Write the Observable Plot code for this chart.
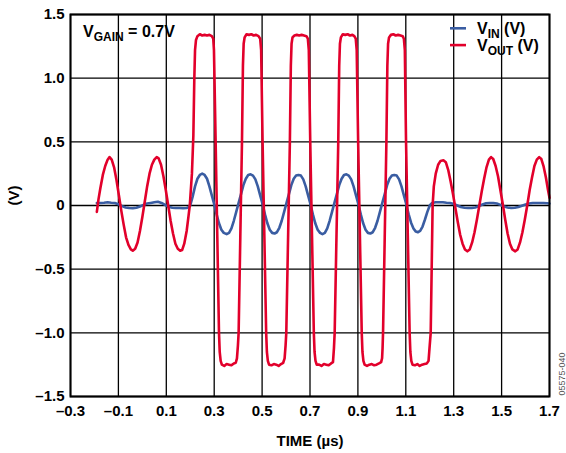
<!DOCTYPE html>
<html>
<head>
<meta charset="utf-8">
<script src="https://cdn.jsdelivr.net/npm/d3@7"></script>
<script src="https://cdn.jsdelivr.net/npm/@observablehq/plot@0.6"></script>
<style>
  html, body { margin: 0; padding: 0; background: #fff; }
  svg { display: block; }
</style>
</head>
<body>
<div id="chart"></div>
<script>
// ---- Data ----
const timeTicks = [-0.3, -0.1, 0.1, 0.3, 0.5, 0.7, 0.9, 1.1, 1.3, 1.5, 1.7];
const voltTicks = [-1.5, -1.0, -0.5, 0, 0.5, 1.0, 1.5];
const seriesNames = ["VIN", "VOUT"];
const seriesColors = ["#3a5da2", "#e2002b"];
const legendParts = [["V", "IN", " (V)"], ["V", "OUT", " (V)"]];
const annotationParts = ["V", "GAIN", " = 0.7V"];
const xTitle = "TIME (µs)";
const yTitle = "(V)";
const figureId = "05575-040";

const vinTime = [
  -0.190, -0.175, -0.160, -0.145, -0.130, -0.115, -0.100, -0.085, -0.070, -0.055,
  -0.040, -0.025, -0.010, 0.005, 0.020, 0.035, 0.050, 0.065, 0.080, 0.095,
  0.110, 0.125, 0.140, 0.155, 0.170, 0.185, 0.195,
  0.200, 0.210, 0.220, 0.230, 0.240, 0.250, 0.260, 0.270, 0.280, 0.290,
  0.300, 0.310, 0.320, 0.330, 0.340, 0.352, 0.362, 0.372, 0.382, 0.392,
  0.402, 0.412, 0.422, 0.432, 0.442, 0.452, 0.462, 0.472, 0.482, 0.492,
  0.502, 0.512, 0.522, 0.532, 0.542, 0.552, 0.562, 0.572, 0.582, 0.592,
  0.602, 0.612, 0.622, 0.632, 0.642, 0.652, 0.662, 0.672, 0.682, 0.692,
  0.702, 0.712, 0.722, 0.732, 0.742, 0.752, 0.762, 0.772, 0.782, 0.792,
  0.802, 0.812, 0.822, 0.832, 0.842, 0.852, 0.862, 0.872, 0.882, 0.892,
  0.902, 0.912, 0.922, 0.932, 0.942, 0.952, 0.962, 0.972, 0.982, 0.992,
  1.002, 1.012, 1.022, 1.032, 1.042, 1.052, 1.062, 1.072, 1.082, 1.092,
  1.102, 1.112, 1.122, 1.132, 1.142, 1.150, 1.160, 1.170, 1.180, 1.190,
  1.200, 1.210, 1.225, 1.240, 1.255, 1.270, 1.285, 1.300, 1.315, 1.330,
  1.345, 1.360, 1.375, 1.390, 1.405, 1.420, 1.435, 1.450, 1.465, 1.480,
  1.495, 1.510, 1.525, 1.540, 1.555, 1.570, 1.585, 1.600, 1.615, 1.630,
  1.645, 1.660, 1.675, 1.690, 1.700
];
const vinVolts = [
  0.020, 0.020, 0.022, 0.025, 0.022, 0.020, 0.010, -0.005, -0.015, -0.020,
  -0.022, -0.018, -0.008, 0.005, 0.015, 0.020, 0.025, 0.030, 0.020, 0.005,
  -0.010, -0.018, -0.020, -0.020, -0.022, -0.020, -0.010,
  0.000, 0.070, 0.150, 0.210, 0.240, 0.250, 0.240, 0.210, 0.150, 0.080,
  0.010, -0.070, -0.140, -0.190, -0.215, -0.225, -0.215, -0.180, -0.120, -0.050,
  0.020, 0.090, 0.160, 0.210, 0.240, 0.245, 0.235, 0.205, 0.150, 0.080,
  0.010, -0.070, -0.140, -0.190, -0.215, -0.220, -0.210, -0.175, -0.120, -0.050,
  0.020, 0.090, 0.160, 0.210, 0.235, 0.240, 0.235, 0.205, 0.150, 0.080,
  0.010, -0.070, -0.140, -0.190, -0.215, -0.225, -0.215, -0.180, -0.120, -0.050,
  0.020, 0.090, 0.160, 0.210, 0.240, 0.245, 0.235, 0.205, 0.150, 0.080,
  0.010, -0.070, -0.140, -0.190, -0.215, -0.220, -0.210, -0.175, -0.120, -0.050,
  0.020, 0.090, 0.160, 0.210, 0.235, 0.240, 0.235, 0.205, 0.150, 0.080,
  0.010, -0.070, -0.135, -0.180, -0.205, -0.210, -0.200, -0.165, -0.110, -0.050,
  0.000, 0.020, 0.025, 0.025, 0.025, 0.022, 0.020, 0.012, 0.000, -0.012,
  -0.018, -0.020, -0.020, -0.015, -0.005, 0.008, 0.018, 0.020, 0.020, 0.015,
  0.005, -0.008, -0.015, -0.020, -0.018, -0.012, -0.002, 0.008, 0.015, 0.020,
  0.020, 0.020, 0.020, 0.018, 0.015
];

const voutTime = [
  -0.190, -0.183, -0.175, -0.165, -0.155, -0.145, -0.137, -0.128, -0.118, -0.108,
  -0.098, -0.088, -0.078, -0.068, -0.058, -0.048, -0.040, -0.030, -0.020, -0.010,
  0.000, 0.010, 0.020, 0.030, 0.040, 0.050, 0.060, 0.068, 0.078, 0.088,
  0.098, 0.108, 0.118, 0.128, 0.138, 0.148, 0.158, 0.166, 0.175, 0.185,
  0.193, 0.198, 0.207, 0.213, 0.217, 0.220, 0.224, 0.230, 0.240, 0.250,
  0.260, 0.270, 0.280, 0.290, 0.296, 0.299, 0.306, 0.313, 0.320, 0.323,
  0.327, 0.332, 0.342, 0.352, 0.362, 0.372, 0.382, 0.390, 0.395, 0.399,
  0.402, 0.409, 0.416, 0.420, 0.423, 0.427, 0.435, 0.445, 0.455, 0.465,
  0.475, 0.485, 0.492, 0.496, 0.502, 0.5095, 0.517, 0.520, 0.524, 0.529,
  0.539, 0.549, 0.559, 0.569, 0.579, 0.588, 0.594, 0.598, 0.601, 0.6085,
  0.616, 0.620, 0.623, 0.627, 0.635, 0.645, 0.655, 0.665, 0.675, 0.685,
  0.691, 0.695, 0.701, 0.7085, 0.716, 0.719, 0.723, 0.728, 0.738, 0.748,
  0.758, 0.768, 0.778, 0.788, 0.796, 0.800, 0.803, 0.8105, 0.818, 0.822,
  0.825, 0.829, 0.837, 0.847, 0.857, 0.867, 0.877, 0.885, 0.891, 0.895,
  0.901, 0.9085, 0.916, 0.919, 0.923, 0.928, 0.938, 0.948, 0.958, 0.968,
  0.978, 0.988, 0.997, 1.001, 1.003, 1.005, 1.012, 1.019, 1.023, 1.026,
  1.030, 1.038, 1.048, 1.058, 1.068, 1.078, 1.087, 1.092, 1.096, 1.101,
  1.1085, 1.116, 1.119, 1.123, 1.128, 1.138, 1.148, 1.158, 1.168, 1.178,
  1.188, 1.195, 1.199, 1.204, 1.208, 1.212, 1.217, 1.225, 1.235, 1.245,
  1.257, 1.267, 1.277, 1.287, 1.297, 1.307, 1.317, 1.327, 1.337, 1.347,
  1.357, 1.367, 1.377, 1.387, 1.397, 1.407, 1.417, 1.427, 1.437, 1.447,
  1.456, 1.465, 1.475, 1.485, 1.495, 1.505, 1.515, 1.525, 1.535, 1.545,
  1.557, 1.567, 1.577, 1.587, 1.597, 1.607, 1.617, 1.627, 1.637, 1.647,
  1.657, 1.666, 1.675, 1.685, 1.694, 1.700
];
const voutVolts = [
  -0.05, 0.05, 0.14, 0.24, 0.31, 0.36, 0.38, 0.36, 0.30, 0.20,
  0.08, -0.04, -0.15, -0.25, -0.31, -0.345, -0.355, -0.34, -0.29, -0.20,
  -0.09, 0.03, 0.15, 0.25, 0.32, 0.36, 0.38, 0.37, 0.32, 0.23,
  0.12, 0.00, -0.12, -0.22, -0.30, -0.34, -0.355, -0.35, -0.30, -0.20,
  -0.08, 0.00, 0.25, 0.55, 1.00, 1.22, 1.30, 1.33, 1.345, 1.335,
  1.34, 1.335, 1.34, 1.33, 1.31, 1.22, 0.50, -0.25, -1.00, -1.15,
  -1.22, -1.25, -1.26, -1.245, -1.25, -1.255, -1.24, -1.235, -1.20, -1.10,
  -1.00, -0.25, 0.50, 1.10, 1.27, 1.32, 1.345, 1.34, 1.345, 1.335,
  1.34, 1.33, 1.31, 1.22, 0.50, -0.25, -1.00, -1.15, -1.22, -1.25,
  -1.255, -1.245, -1.25, -1.26, -1.245, -1.235, -1.20, -1.10, -1.00, -0.25,
  0.50, 1.10, 1.27, 1.32, 1.335, 1.34, 1.335, 1.34, 1.335, 1.33,
  1.31, 1.22, 0.50, -0.25, -1.00, -1.15, -1.22, -1.25, -1.25, -1.26,
  -1.245, -1.25, -1.255, -1.24, -1.23, -1.12, -1.00, -0.25, 0.50, 1.10,
  1.27, 1.32, 1.345, 1.34, 1.345, 1.335, 1.34, 1.33, 1.31, 1.22,
  0.50, -0.25, -1.00, -1.15, -1.22, -1.25, -1.26, -1.25, -1.245, -1.255,
  -1.25, -1.24, -1.23, -1.20, -1.12, -1.00, -0.25, 0.50, 1.10, 1.27,
  1.32, 1.34, 1.345, 1.335, 1.34, 1.335, 1.33, 1.31, 1.22, 0.50,
  -0.25, -1.00, -1.15, -1.22, -1.25, -1.255, -1.245, -1.26, -1.25, -1.245,
  -1.24, -1.22, -1.12, -1.00, -0.50, 0.00, 0.15, 0.25, 0.32, 0.35,
  0.355, 0.34, 0.28, 0.19, 0.09, -0.02, -0.13, -0.23, -0.30, -0.345,
  -0.36, -0.345, -0.29, -0.21, -0.11, 0.00, 0.11, 0.21, 0.30, 0.36,
  0.38, 0.365, 0.31, 0.23, 0.12, 0.01, -0.11, -0.22, -0.30, -0.345,
  -0.36, -0.345, -0.29, -0.21, -0.11, 0.00, 0.12, 0.22, 0.31, 0.36,
  0.38, 0.365, 0.31, 0.22, 0.12, 0.06
];

// ---- Build tidy rows ----
const rows = [
  ...vinTime.map((t, i) => ({t, v: vinVolts[i], s: seriesNames[0]})),
  ...voutTime.map((t, i) => ({t, v: voutVolts[i], s: seriesNames[1]}))
];

const FONT = "Arial, 'Liberation Sans', Helvetica, sans-serif";
const fmt = d => d === 0 ? "0" : (d < 0 ? "\u2013" : "") + Math.abs(d).toFixed(1);

const W = 566, H = 453;
const mL = 70, mR = 17, mT = 14, mB = 57;

const chart = Plot.plot({
  width: W,
  height: H,
  marginLeft: mL,
  marginRight: mR,
  marginTop: mT,
  marginBottom: mB,
  style: {fontFamily: FONT, background: "#fff", color: "#000"},
  x: {domain: [-0.3, 1.7]},
  y: {domain: [-1.5, 1.5]},
  color: {domain: seriesNames, range: seriesColors},
  marks: [
    Plot.gridX(timeTicks, {stroke: "#000", strokeOpacity: 1, strokeWidth: 1.3}),
    Plot.gridY(voltTicks, {stroke: "#000", strokeOpacity: 1, strokeWidth: 1.3}),
    Plot.axisX(timeTicks, {tickSize: 0, tickPadding: 9, tickFormat: fmt, fontSize: 15, fontWeight: "bold", label: null}),
    Plot.axisY(voltTicks, {tickSize: 0, tickPadding: 6, tickFormat: fmt, fontSize: 15, fontWeight: "bold", label: null}),
    Plot.line(rows, {x: "t", y: "v", z: "s", stroke: "s", strokeWidth: 2.6, strokeLinejoin: "round", strokeLinecap: "round"}),
    Plot.frame({stroke: "#000", strokeWidth: 2}),
    Plot.text([xTitle], {text: d => d, frameAnchor: "bottom", dy: 45, fontSize: 15, fontWeight: "bold", lineAnchor: "middle"}),
    Plot.text([yTitle], {text: d => d, frameAnchor: "left", dx: -56, rotate: -90, fontSize: 15, fontWeight: "bold", lineAnchor: "middle"}),
    Plot.text([figureId], {text: d => d, frameAnchor: "bottom-right", dx: 15, dy: -1, rotate: -90, textAnchor: "start", lineAnchor: "bottom", fontSize: 9, fill: "#555"})
  ]
});

const svgSel = d3.select(chart);
const frameRight = W - mR, frameTop = mT, frameLeft = mL;

// Annotation with subscript
const ann = svgSel.append("text")
  .attr("x", frameLeft + 13).attr("y", frameTop + 22.5)
  .attr("text-anchor", "start")
  .attr("font-family", FONT).attr("font-weight", "bold").attr("font-size", 16).attr("fill", "#000");
ann.append("tspan").text(annotationParts[0]);
ann.append("tspan").attr("font-size", 12).attr("dy", 4).text(annotationParts[1]);
ann.append("tspan").attr("dy", -4).text(annotationParts[2]);

// Legend
const lg = svgSel.append("g").attr("text-anchor", "start");
legendParts.forEach((parts, i) => {
  const yLine = frameTop + 14.3 + i * 16.8;
  lg.append("line")
    .attr("x1", frameRight - 99).attr("x2", frameRight - 83)
    .attr("y1", yLine).attr("y2", yLine)
    .attr("stroke", seriesColors[i]).attr("stroke-width", 2.6);
  const tx = lg.append("text")
    .attr("x", frameRight - 72).attr("y", yLine + 6)
    .attr("text-anchor", "start")
    .attr("font-family", FONT).attr("font-weight", "bold").attr("font-size", 16).attr("fill", "#000");
  tx.append("tspan").text(parts[0]);
  tx.append("tspan").attr("font-size", 12).attr("dy", 3.5).text(parts[1]);
  tx.append("tspan").attr("dy", -3.5).text(parts[2]);
});

document.getElementById("chart").appendChild(chart);
</script>
</body>
</html>
